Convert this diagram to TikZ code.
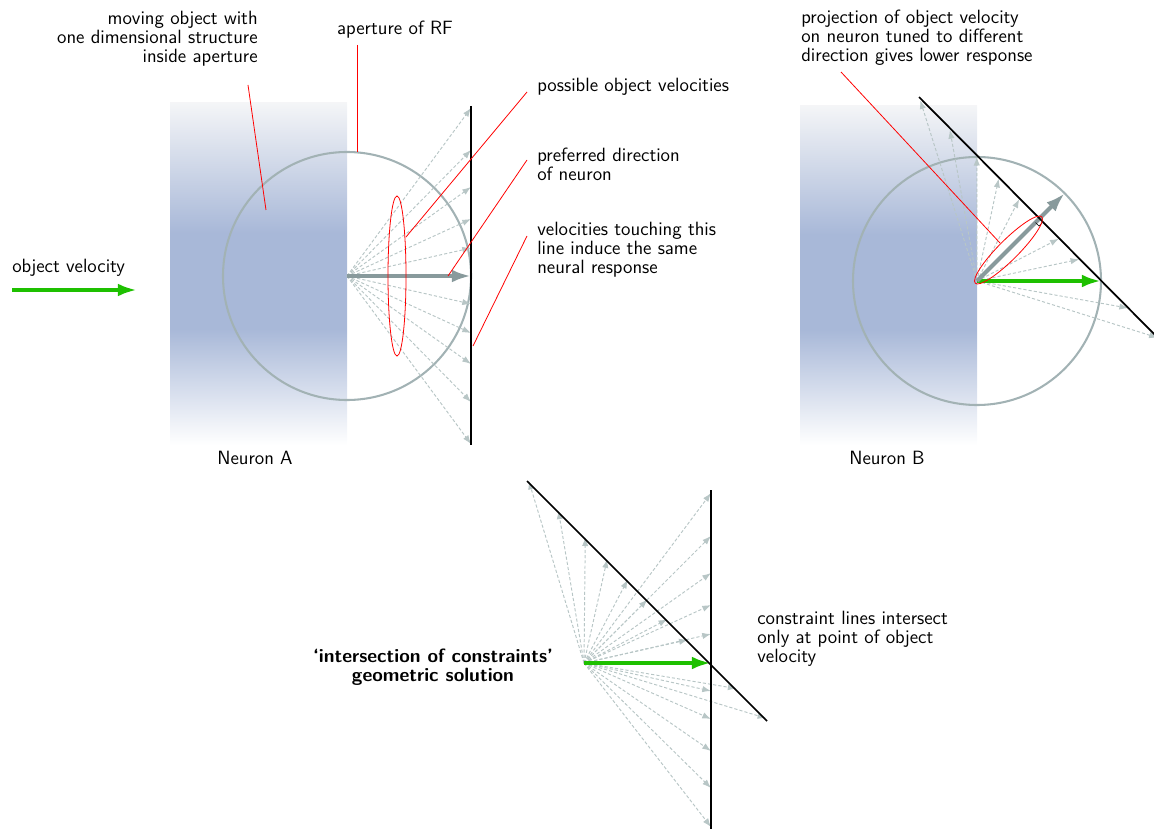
\documentclass[tikz,border=0pt]{standalone}
\usetikzlibrary{arrows.meta,calc}
\definecolor{shadeblue}{RGB}{168,184,216}
\definecolor{shadetop}{RGB}{244,245,247}
\definecolor{rfgray}{RGB}{162,178,180}
\definecolor{arrgray}{RGB}{136,154,156}
\definecolor{dashgray}{RGB}{184,198,198}
\definecolor{objgreen}{RGB}{30,192,0}
\pgfdeclareverticalshading{objfade}{100bp}{color(0bp)=(white); color(25bp)=(white); color(42bp)=(shadeblue); color(56bp)=(shadeblue); color(75bp)=(shadetop); color(100bp)=(shadetop)}
\newcommand{\lblfont}{\sffamily\fontsize{12.1}{12}\selectfont}
\tikzset{
  rf/.style={draw=rfgray, line width=1.3pt},
  constraint/.style={draw=black, line width=1.1pt},
  possvel/.style={draw=dashgray, dash pattern=on 2pt off 1.3pt, line width=0.6pt, -{Latex[length=5.5pt,width=4pt]}},
  pref/.style={draw=arrgray, line width=2.5pt, -{Latex[length=12pt,width=8pt]}},
  objvel/.style={draw=objgreen, line width=2.5pt, -{Latex[length=12pt,width=8pt]}},
  pointer/.style={draw=red, line width=0.5pt},
  txt/.style={font=\lblfont, inner sep=0pt},
  objshade/.style={shading=objfade, draw=none},
}
\begin{document}
\begin{tikzpicture}[x=0.63pt,y=-0.63pt]
\useasboundingbox (0,0) rectangle (1154,829);
\clip (0,0) rectangle (1154,829);

% ---------------- Neuron A ----------------
\coordinate (cA) at (347,276);
\shade[objshade] (170,103) rectangle (347,445);
\draw[rf] (cA) circle[radius=124];
\foreach \s in {-168,-126,-89,-57,-28,28,57,88,126,168}
  \draw[possvel] (cA) -- ($(cA)+(124,\s)$);
\coordinate (tA) at (471,276);
\draw[pref] (cA) -- (tA);
\coordinate (lAtop) at (471,106);
\coordinate (lAbot) at (471,445);
\draw[constraint] (lAtop) -- (lAbot);
\draw[pointer] (397,276) ellipse[x radius=9, y radius=80];

% object velocity
\node[txt, anchor=north west] (ov) at (12,259) {object velocity};
\coordinate (ovs) at (12,290);
\coordinate (ove) at (137,290);
\draw[objvel] (ovs) -- (ove);

\node[txt, anchor=north] (nA) at (255,451) {Neuron A};

% labels A
\node[txt, anchor=north east, align=right] (mo) at (258,11)
  {moving object with\\one dimensional structure\\inside aperture};
\coordinate (mo1) at (248,85);
\coordinate (mo2) at (266,210);
\draw[pointer] (mo1) -- (mo2);

\node[txt, anchor=north] (ap) at (395,21) {aperture of RF};
\coordinate (ap1) at (357,45);
\coordinate (ap2) at (357,152);
\draw[pointer] (ap1) -- (ap2);

\node[txt, anchor=north west] (pv) at (537,78) {possible object velocities};
\coordinate (pv1) at (527,92);
\coordinate (pv2) at (406,237);
\draw[pointer] (pv1) -- (pv2);

\node[txt, anchor=north west, align=left] (pd) at (537,148) {preferred direction\\of neuron};
\coordinate (pd1) at (527,160);
\coordinate (pd2) at (448,276);
\draw[pointer] (pd1) -- (pd2);

\node[txt, anchor=north west, align=left] (vt) at (537,222) {velocities touching this\\line induce the same\\neural response};
\coordinate (vt1) at (527,236);
\coordinate (vt2) at (473,346);
\draw[pointer] (vt1) -- (vt2);

% ---------------- Neuron B ----------------
\coordinate (cB) at (977,281);
\coordinate (fB) at (1039,219);
\shade[objshade] (800,106) rectangle (977,445);
\draw[rf] (cB) circle[radius=124];
\foreach \s in {-168,-126,-88,-57,-28,28,57,126,168}
  \draw[possvel] (cB) -- ($(fB)+({0.7071*\s},{0.7071*\s})$);
\coordinate (gB) at (1101,281);
\draw[objvel] (cB) -- (gB);
\coordinate (pB) at (1064.7,193.3);
\draw[pref] (cB) -- (pB);
\coordinate (lBtop) at (919,97);
\coordinate (lBbot) at (1160,340);
\draw[constraint] (lBtop) -- (lBbot);
\draw[black, line width=0.4pt] ($(fB)+(3.5,3.5)$) -- ($(fB)+(0,7)$) -- ($(fB)+(-3.5,3.5)$);
\draw[pointer] (1008.5,250) ellipse[x radius=47, y radius=10, rotate=45];

\node[txt, anchor=north] (nB) at (887,451) {Neuron B};

\node[txt, anchor=north west, align=left] (pj) at (801,10)
  {projection of object velocity\\on neuron tuned to different\\direction gives lower response};
\coordinate (pj1) at (841,72);
\coordinate (pj2) at (1000,243);
\draw[pointer] (pj1) -- (pj2);

% ---------------- IOC ----------------
\coordinate (cC) at (584,663);
\coordinate (fC) at (647.5,599.5);
\foreach \s in {-168,-126,-88,-57,-28,0,28,57,126,168}
  \draw[possvel] (cC) -- ($(fC)+({0.7071*\s},{0.7071*\s})$);
\foreach \s in {-170,-127,-90,-58,-29,28,56,88,125,164}
  \draw[possvel] (cC) -- ($(cC)+(127,\s)$);
\coordinate (gC) at (711,663);
\draw[objvel] (cC) -- (gC);
\coordinate (lCtop) at (711,490);
\coordinate (lCbot) at (711,829);
\draw[constraint] (lCtop) -- (lCbot);
\coordinate (dCtop) at (527,481);
\coordinate (dCbot) at (767,721);
\draw[constraint] (dCtop) -- (dCbot);

\node[txt, anchor=north, align=center, font=\lblfont\bfseries] (ioc) at (433,649)
  {`intersection of constraints'\\geometric solution};
\node[txt, anchor=north west, align=left] (cl) at (757,611)
  {constraint lines intersect\\only at point of object\\velocity};
\end{tikzpicture}
\end{document}
